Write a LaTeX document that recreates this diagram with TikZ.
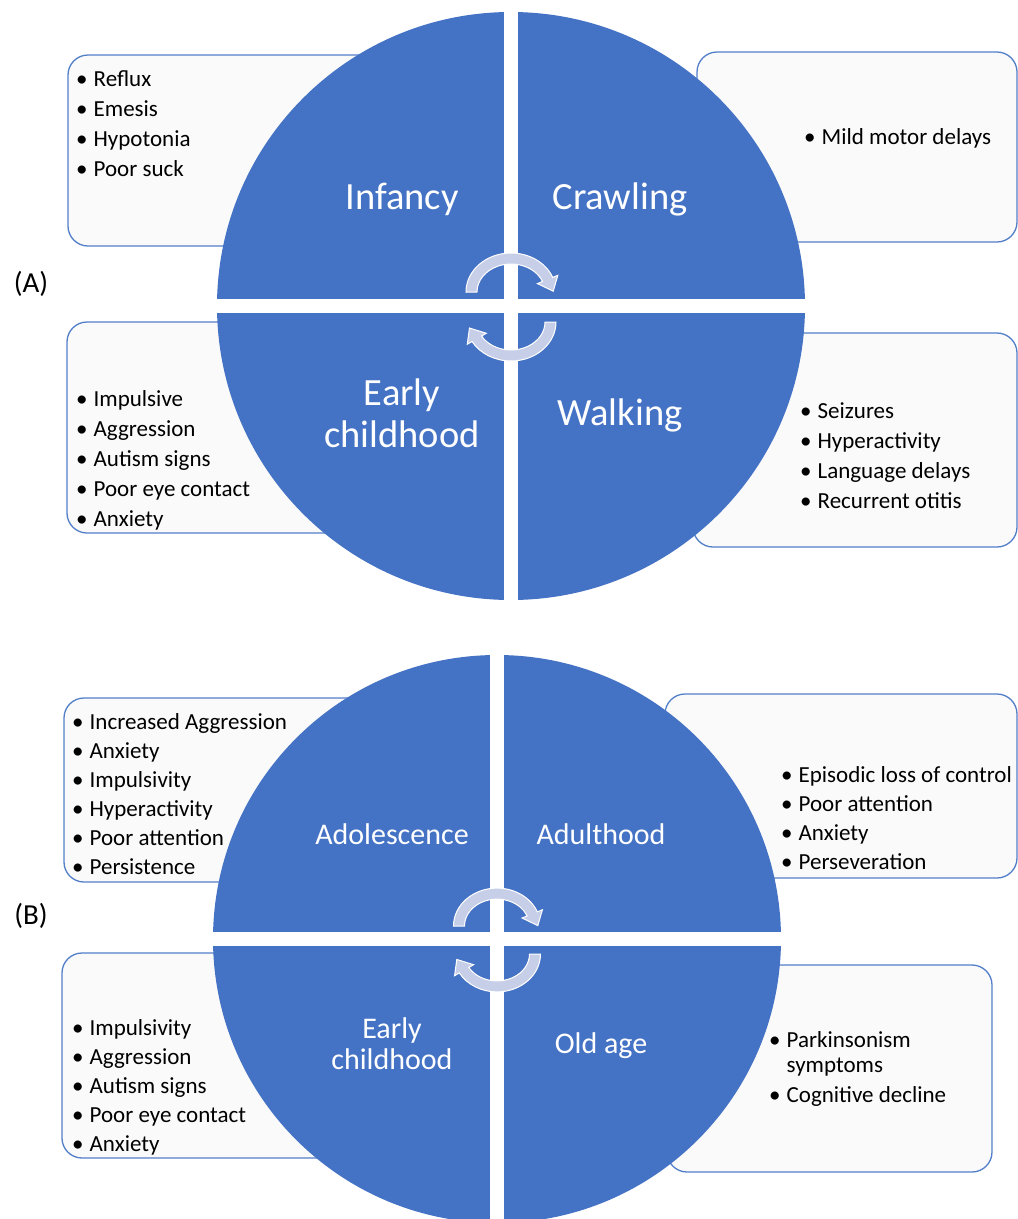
\documentclass[tikz,border=0pt]{standalone}
\usepackage{fontspec}
\setmainfont{Carlito}
\definecolor{quarterblue}{RGB}{68,114,196}
\definecolor{framecol}{RGB}{82,127,200}
\definecolor{arcfill}{RGB}{199,207,232}
\newcommand\itm{\makebox[0.76em][l]{\textbullet}}
\newcommand\bandw{5.5}
\newcommand\headw{11}
\newcommand\arrowlen{13}
% curved arrow: centre, x radius, y radius, start angle, head angle
\newcommand\turnarrow[5]{%
  \begin{scope}[shift={#1}]
    \pgfmathsetmacro\rxo{#2+\bandw}\pgfmathsetmacro\ryo{#3+\bandw}
    \pgfmathsetmacro\rxi{#2-\bandw}\pgfmathsetmacro\ryi{#3-\bandw}
    \pgfmathsetmacro\rxh{#2+\headw}\pgfmathsetmacro\ryh{#3+\headw}
    \pgfmathsetmacro\rxk{#2-\headw}\pgfmathsetmacro\ryk{#3-\headw}
    \pgfmathsetmacro\nrm{sqrt((#2*sin(#5))^2+(#3*cos(#5))^2)}
    \pgfmathsetmacro\tipx{#2*cos(#5)-\arrowlen*#2*sin(#5)/\nrm}
    \pgfmathsetmacro\tipy{#3*sin(#5)+\arrowlen*#3*cos(#5)/\nrm}
    \draw[cyclearc] (#4:\rxo\space and \ryo)
      arc[start angle=#4,end angle=#5,x radius=\rxo,y radius=\ryo]
      -- (#5:\rxh\space and \ryh) -- (\tipx,\tipy) -- (#5:\rxk\space and \ryk)
      -- (#5:\rxi\space and \ryi)
      arc[start angle=#5,end angle=#4,x radius=\rxi,y radius=\ryi] -- cycle;
  \end{scope}}
\begin{document}
\begin{tikzpicture}[x=1pt,y=-1pt,
  notebox/.style={draw=framecol,line width=1.3pt,fill=white!98!black,rounded corners=20pt},
  quarter/.style={fill=quarterblue},
  cutline/.style={fill=white},
  cyclearc/.style={fill=arcfill,draw=white,line width=1pt,line join=miter},
  itemlist/.style={anchor=base west,align=left,inner sep=0pt,font=\fontsize{23}{30}\selectfont},
  itemlistb/.style={itemlist,font=\fontsize{23}{29}\selectfont},
  stagebig/.style={anchor=base,align=center,inner sep=0pt,text=white,font=\fontsize{38.5}{42}\selectfont},
  stagesmall/.style={anchor=base,align=center,inner sep=0pt,text=white,font=\fontsize{30}{31}\selectfont},
  panel/.style={inner sep=0pt,font=\fontsize{29}{32}\selectfont}]
\useasboundingbox (0,0) rectangle (1018,1219);
%
% (A)
\draw[notebox] (68,55) rectangle (420,246);
\draw[notebox] (697,52) rectangle (1017,242);
\draw[notebox] (67,322) rectangle (420,533);
\draw[notebox] (693,333) rectangle (1017,547);
\fill[quarter] (511,306) circle[radius=294];
\fill[cutline] (504,8) rectangle (518,604);
\fill[cutline] (213,299) rectangle (809,313);
\turnarrow{(511,292)}{39.5}{33.5}{180}{338}
\turnarrow{(511,322)}{39.5}{33.5}{0}{150}
\node[panel] (panelA) at (31,284) {(A)};
\node[stagebig] (infancy) at (402,209) {Infancy};
\node[stagebig] (crawling) at (620,209) {Crawling};
\node[stagebig] (earlyA) at (402,447) {Early\\childhood};
\node[stagebig] (walking) at (620,425) {Walking};
\node[itemlist] (infancylist) at (76,176) {\itm Reflux\\\itm Emesis\\\itm Hypotonia\\\itm Poor suck};
\node[itemlist] (crawlinglist) at (804,144) {\itm Mild motor delays};
\node[itemlist] (earlyAlist) at (76,526) {\itm Impulsive\\\itm Aggression\\\itm Autism signs\\\itm Poor eye contact\\\itm Anxiety};
\node[itemlist] (walkinglist) at (800,508) {\itm Seizures\\\itm Hyperactivity\\\itm Language delays\\\itm Recurrent otitis};
%
% (B)
\draw[notebox] (64,698) rectangle (420,882);
\draw[notebox] (665,694) rectangle (1017,878);
\draw[notebox] (62,953) rectangle (420,1158);
\draw[notebox] (667,965) rectangle (992,1172);
\fill[quarter] (497,939) circle[radius=284];
\fill[cutline] (490,651) rectangle (504,1227);
\fill[cutline] (209,932) rectangle (785,946);
\turnarrow{(497,926)}{38}{32.4}{180}{338}
\turnarrow{(497,954)}{38}{32.4}{0}{150}
\node[panel] (panelB) at (31,916) {(B)};
\node[stagesmall] (adolescence) at (392,844) {Adolescence};
\node[stagesmall] (adulthood) at (601,844) {Adulthood};
\node[stagesmall] (earlyB) at (392,1069) {Early\\childhood};
\node[stagesmall] (oldage) at (601,1053) {Old age};
\node[itemlistb] (adolescencelist) at (72,874) {\itm Increased Aggression\\\itm Anxiety\\\itm Impulsivity\\\itm Hyperactivity\\\itm Poor attention\\\itm Persistence};
\node[itemlistb] (adulthoodlist) at (781,869) {\itm Episodic loss of control\\\itm Poor attention\\\itm Anxiety\\\itm Perseveration};
\node[itemlistb] (earlyBlist) at (72,1151) {\itm Impulsivity\\\itm Aggression\\\itm Autism signs\\\itm Poor eye contact\\\itm Anxiety};
\node[itemlistb,font=\fontsize{23}{25}\selectfont] (oldagelist) at (769,1102) {\itm Parkinsonism\\\hphantom{\itm}symptoms\\[5pt]\itm Cognitive decline};
%
\end{tikzpicture}
\end{document}
